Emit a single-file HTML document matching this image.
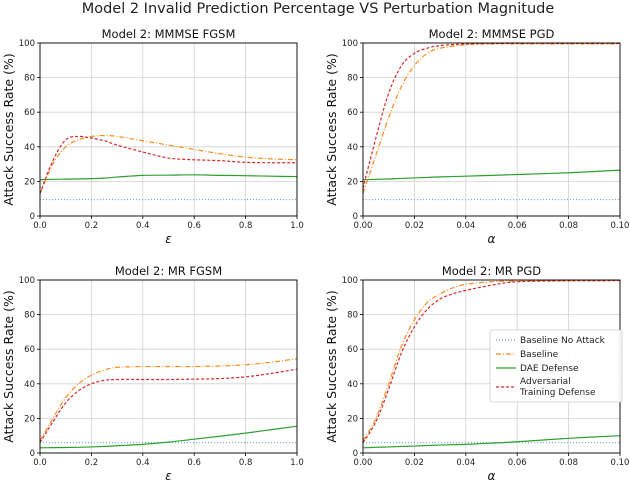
<!DOCTYPE html>
<html><head><meta charset="utf-8">
<style>
body{margin:0;background:#fff;}
svg{display:block;font-family:"DejaVu Sans","Liberation Sans",sans-serif;}
</style></head>
<body>
<svg id="chart" width="630" height="480" viewBox="0 0 630 480">
<text x="318" y="13" text-anchor="middle" font-size="14.5" fill="#222">Model 2 Invalid Prediction Percentage VS Perturbation Magnitude</text>
</svg>
<script>
// Panel 1: MMMSE FGSM
const p1x = [0,0.05,0.1,0.15,0.2,0.25,0.3,0.4,0.5,0.6,0.7,0.8,0.9,1.0];
const p1base = [13,30,40,44,46,46.5,46,43.5,41,38.5,36,34,33,32.5];
const p1adv = [13,32,44,46,45,43.5,41,37,33.5,32.5,32,31,30.8,30.8];
const p1dae = [21,21.2,21.3,21.4,21.6,21.9,22.5,23.5,23.6,23.8,23.5,23.3,23,22.8];
const p1none = [9.5,9.5];
// Panel 2: MMMSE PGD
const p2x = [0,0.005,0.01,0.015,0.02,0.025,0.03,0.04,0.05,0.06,0.08,0.1];
const p2base = [13,35,57,75,87,94,97,99,99.5,99.5,99.5,99.5];
const p2adv = [16,45,71,87,94,97,98.5,99.5,99.7,99.8,99.8,99.8];
const p2dae = [21,21.2,21.4,21.7,22,22.3,22.6,23,23.5,24,25,26.5];
const p2none = [9.5,9.5];
// Panel 3: MR FGSM
const p3x = [0,0.05,0.1,0.15,0.2,0.25,0.3,0.4,0.5,0.6,0.7,0.8,0.9,1.0];
const p3base = [7,20,32,40,45,48,49.5,50,50,50,50.3,51,52.5,54.5];
const p3adv = [6,18,29,36,40,42,42.5,42.5,42.5,42.7,43,44,46,48.5];
const p3dae = [3,3.1,3.2,3.3,3.5,3.8,4.2,5,6.3,8,9.7,11.5,13.5,15.5];
const p3none = [6,6];
// Panel 4: MR PGD
const p4x = [0,0.005,0.01,0.015,0.02,0.025,0.03,0.035,0.04,0.05,0.06,0.08,0.1];
const p4base = [7,20,40,62,77,87,92,95.5,97.5,99,99.5,99.8,99.8];
const p4adv = [6,18,37,58,73,83,89,92,94,97,99,99.5,99.6];
const p4dae = [3,3.3,3.5,3.8,4,4.3,4.6,4.8,5,5.7,6.5,8.5,10];
const p4none = [6,6];
const yTicks = [0,20,40,60,80,100];
const epsTicks = [0,0.2,0.4,0.6,0.8,1.0];
const epsLabels = ["0.0","0.2","0.4","0.6","0.8","1.0"];
const alphaTicks = [0,0.02,0.04,0.06,0.08,0.1];
const alphaLabels = ["0.00","0.02","0.04","0.06","0.08","0.10"];

const NS="http://www.w3.org/2000/svg";
const svg=document.getElementById('chart');
function mk(tag,attrs,parent){const e=document.createElementNS(NS,tag);for(const k in attrs)e.setAttribute(k,attrs[k]);(parent||svg).appendChild(e);return e;}
function smoothPath(pts){
  let d="M"+pts[0][0]+","+pts[0][1];
  for(let i=0;i<pts.length-1;i++){
    const p0=pts[Math.max(0,i-1)],p1=pts[i],p2=pts[i+1],p3=pts[Math.min(pts.length-1,i+2)];
    const c1x=p1[0]+(p2[0]-p0[0])/6,c1y=p1[1]+(p2[1]-p0[1])/6;
    const c2x=p2[0]-(p3[0]-p1[0])/6,c2y=p2[1]-(p3[1]-p1[1])/6;
    d+=" C"+c1x+","+c1y+" "+c2x+","+c2y+" "+p2[0]+","+p2[1];
  }
  return d;
}
function panel(id,title,x0,x1,yTop,yBot,xmax,xs,base,adv,dae,none,ticks,labels,xlab){
  const g=mk('g',{});
  
  
  const sx=v=>x0+(v/xmax)*(x1-x0), sy=v=>yBot-(v/100)*(yBot-yTop);
  ticks.forEach((t,i)=>{
    const l=mk('line',{x1:sx(t),x2:sx(t),y1:yTop,y2:yBot,stroke:'#d0d0d0','stroke-width':0.8},g);
    
    mk('line',{x1:sx(t),x2:sx(t),y1:yBot,y2:yBot+3,stroke:'#000','stroke-width':0.8},g);
    const tx=mk('text',{x:sx(t),y:yBot+12,'text-anchor':'middle','font-size':8.5,fill:'#222'},g);
    tx.textContent=labels[i];
    
  });
  yTicks.forEach(t=>{
    const l=mk('line',{x1:x0,x2:x1,y1:sy(t),y2:sy(t),stroke:'#d0d0d0','stroke-width':0.8},g);
    
    mk('line',{x1:x0-3,x2:x0,y1:sy(t),y2:sy(t),stroke:'#000','stroke-width':0.8},g);
    const tx=mk('text',{x:x0-5,y:sy(t)+3,'text-anchor':'end','font-size':8.5,fill:'#222'},g);
    tx.textContent=t;
    
  });
  const series=[
    {n:'baseline-no-attack',pts:[[0,none[0]],[xmax,none[1]]],c:'#5a9ec9',dash:'1,2',w:1},
    {n:'dae-defense',pts:xs.map((x,i)=>[x,dae[i]]),c:'#2ca02c',dash:'',w:1.2},
    {n:'baseline',pts:xs.map((x,i)=>[x,base[i]]),c:'#ff8c1a',dash:'5,2,1,2',w:1.2},
    {n:'adversarial-training-defense',pts:xs.map((x,i)=>[x,adv[i]]),c:'#d62728',dash:'3,2',w:1.2}
  ];
  series.forEach(s=>{
    const p=mk('path',{d:smoothPath(s.pts.map(q=>[sx(q[0]),sy(q[1])])),fill:'none',stroke:s.c,'stroke-width':s.w,'stroke-dasharray':s.dash},g);
    
  });
  const fr=mk('rect',{x:x0,y:yTop,width:x1-x0,height:yBot-yTop,fill:'none',stroke:'#000','stroke-width':0.9},g);
  
  const tt=mk('text',{x:(x0+x1)/2,y:yTop-5,'text-anchor':'middle','font-size':11.5,fill:'#111'},g);
  tt.textContent=title;
  
  const xl=mk('text',{x:(x0+x1)/2,y:yBot+27,'text-anchor':'middle','font-size':12,'font-style':'italic',fill:'#111'},g);
  xl.textContent=xlab;
  
  const yl=mk('text',{x:0,y:0,'text-anchor':'middle','font-size':12.5,fill:'#111',transform:'translate('+(x0-27)+','+((yTop+yBot)/2)+') rotate(-90)'},g);
  yl.textContent='Attack Success Rate (%)';
  
  return {g,sx,sy};
}
panel('panel-mmmse-fgsm','Model 2: MMMSE FGSM',40,297,43,216,1,p1x,p1base,p1adv,p1dae,p1none,epsTicks,epsLabels,'ε');
panel('panel-mmmse-pgd','Model 2: MMMSE PGD',363,620,43,216,0.1,p2x,p2base,p2adv,p2dae,p2none,alphaTicks,alphaLabels,'α');
panel('panel-mr-fgsm','Model 2: MR FGSM',40,297,280,453,1,p3x,p3base,p3adv,p3dae,p3none,epsTicks,epsLabels,'ε');
const last=panel('panel-mr-pgd','Model 2: MR PGD',363,620,280,453,0.1,p4x,p4base,p4adv,p4dae,p4none,alphaTicks,alphaLabels,'α');
// legend
const lg=mk('g',{});


mk('rect',{x:490,y:330,width:132,height:72,fill:'#fff','fill-opacity':0.9,stroke:'#ccc','stroke-width':0.8,rx:2},lg);
const items=[
  {n:'Baseline No Attack',c:'#5a9ec9',d:'1,2',y:340},
  {n:'Baseline',c:'#ff8c1a',d:'5,2,1,2',y:354},
  {n:'DAE Defense',c:'#2ca02c',d:'',y:368},
  {n:'Adversarial',n2:'Training Defense',c:'#d62728',d:'3,2',y:387}
];
items.forEach(it=>{
  const e=mk('g',{},lg);
  
  
  mk('line',{x1:496,x2:516,y1:it.y,y2:it.y,stroke:it.c,'stroke-width':1.2,'stroke-dasharray':it.d},e);
  if(it.n2){
    const t1=mk('text',{x:520,y:it.y-3,'font-size':9,fill:'#222'},e);t1.textContent=it.n;
    const t2=mk('text',{x:520,y:it.y+8,'font-size':9,fill:'#222'},e);t2.textContent=it.n2;
  } else {
    const t=mk('text',{x:520,y:it.y+3,'font-size':9,fill:'#222'},e);t.textContent=it.n;
  }
});
</script>
</body></html>
